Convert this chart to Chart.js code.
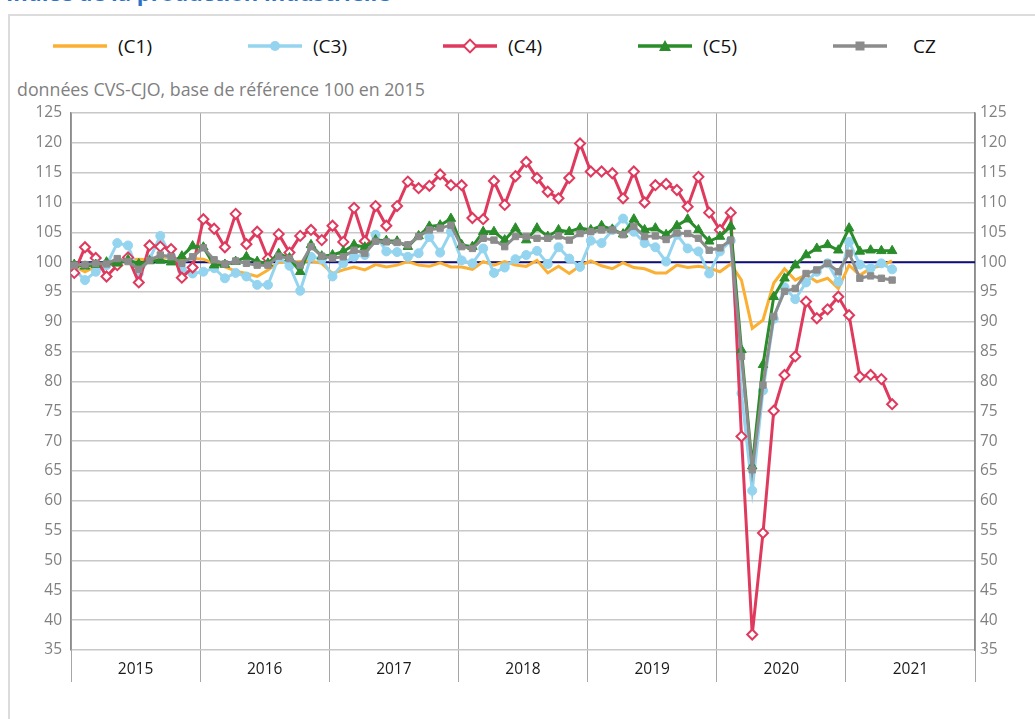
<!DOCTYPE html>
<html lang="fr">
<head>
    <meta charset="UTF-8">
    <title>Production industrielle</title>
    <script src="https://cdn.jsdelivr.net/npm/chart.js"></script>
    <style>
        body { margin: 0; width: 1035px; height: 719px; overflow: hidden; background: #fff; font-family: "Open Sans", sans-serif; position: relative; }
        #title { position: absolute; left: 6px; top: -23px; font-size: 22px; font-weight: bold; color: #2b73c9; white-space: nowrap; }
        #frame { position: absolute; left: 8px; top: 14px; width: 1100px; height: 800px; border: 2px solid #dcdcdc; box-sizing: border-box; }
        #subtitle { position: absolute; left: 17px; top: 77px; font-size: 17.8px; color: #808080; white-space: nowrap; }
        .leg { position: absolute; top: 36px; height: 20px; font-size: 19px; color: #111; white-space: nowrap; }
        .leg svg { position: absolute; left: 0; top: 2px; }
        .leg span { position: absolute; top: -3px; }
        #chart { position: absolute; left: 0; top: 0; }
    </style>
</head>
<body>
<div id="title">Indice de la production industrielle</div>
<div id="frame"></div>
<div id="legend"></div>
<div id="subtitle">données CVS-CJO, base de référence 100 en 2015</div>
<canvas id="chart" width="1035" height="719"></canvas>
<script>
    // indices mensuels, janvier 2015 -> mai 2021
    const years = ['2015', '2016', '2017', '2018', '2019', '2020', '2021'];
    const baseValue = 100;

    const c1 = [
        99.3, 98.4, 99.3, 99.7, 100.0, 100.4, 100.5, 100.4, 100.9, 100.7, 100.3, 100.6,
        100.5, 99.8, 99.2, 98.5, 98.1, 97.6, 98.7, 100.0, 100.0, 100.1, 100.2, 99.8,
        98.1, 98.7, 99.2, 98.7, 99.6, 99.2, 99.5, 100.1, 99.5, 99.3, 99.9, 99.2,
        99.2, 98.8, 100.1, 99.5, 100.1, 99.5, 99.3, 100.3, 98.2, 99.3, 98.1, 99.4,
        100.2, 99.4, 98.9, 99.9, 99.1, 98.9, 98.2, 98.2, 99.5, 99.1, 99.3, 99.0,
        98.4, 99.7, 97.0, 88.9, 90.3, 96.5, 98.9, 97.0, 97.9, 96.7, 97.3, 95.6,
        99.5, 97.8, 99.0, 99.4, 100.2
    ];
    const c3 = [
        98.8, 97.0, 98.4, 99.5, 103.2, 102.8, 98.1, 100.5, 104.4, 101.0, 98.7, 98.1,
        98.4, 99.0, 97.3, 98.2, 97.6, 96.2, 96.2, 100.8, 99.4, 95.2, 100.9, 100.5,
        97.6, 99.8, 100.9, 101.2, 104.6, 101.8, 101.7, 100.9, 101.5, 104.2, 101.6, 105.1,
        100.3, 99.8, 102.3, 98.2, 99.1, 100.5, 101.2, 101.9, 99.7, 102.5, 100.6, 99.2,
        103.6, 103.2, 105.4, 107.3, 105.1, 103.2, 102.5, 100.1, 104.6, 102.3, 101.8, 98.1,
        101.8, 103.6, 78.0, 61.7, 78.5, 90.5, 95.8, 93.8, 96.6, 98.4, 99.8, 96.7,
        103.4, 99.6, 99.0, 99.8, 98.8
    ];
    const c4 = [
        98.2, 102.5, 100.7, 97.6, 99.5, 100.8, 96.6, 102.8, 102.6, 102.2, 97.4, 99.1,
        107.2, 105.6, 102.5, 108.1, 103.0, 105.1, 100.6, 104.7, 101.6, 104.4, 105.4, 103.7,
        106.1, 103.4, 109.1, 103.5, 109.4, 106.1, 109.4, 113.5, 112.4, 112.8, 114.7, 112.9,
        112.9, 107.4, 107.2, 113.6, 109.6, 114.4, 116.8, 114.1, 111.8, 110.7, 114.1, 119.9,
        115.2, 115.2, 114.9, 110.7, 115.2, 110.0, 112.9, 113.1, 112.1, 109.3, 114.3, 108.3,
        105.4, 108.3, 70.8, 37.6, 54.6, 75.1, 81.1, 84.2, 93.4, 90.6, 92.1, 94.2,
        91.1, 80.8, 81.1, 80.4, 76.2
    ];
    const c5 = [
        99.6, 99.3, 99.6, 100.0, 99.8, 100.4, 99.7, 100.2, 100.3, 100.0, 101.0, 102.7,
        102.5, 99.5, 99.6, 100.1, 100.9, 100.1, 99.8, 101.4, 100.7, 98.4, 102.9, 101.0,
        101.2, 101.8, 102.9, 102.5, 103.7, 103.6, 103.5, 102.6, 104.4, 106.0, 106.2, 107.3,
        102.9, 102.6, 105.1, 105.1, 103.7, 105.7, 103.7, 105.7, 104.3, 105.4, 105.1, 105.7,
        105.4, 106.1, 105.5, 104.7, 107.2, 105.4, 105.7, 104.6, 106.1, 107.2, 105.4, 103.5,
        104.3, 106.0, 85.3, 65.8, 82.8, 94.2, 97.3, 99.5, 101.2, 102.3, 102.9, 102.0,
        105.7, 101.8, 102.0, 101.9, 101.9
    ];
    const cz = [
        99.5, 99.6, 99.8, 99.7, 100.6, 100.1, 98.8, 100.3, 101.2, 100.9, 99.8, 100.9,
        102.4, 100.4, 99.7, 100.2, 99.8, 99.5, 99.5, 101.0, 100.6, 99.5, 102.6, 101.0,
        100.7, 100.9, 102.0, 101.5, 103.5, 103.4, 103.3, 102.9, 104.3, 105.4, 105.7, 106.2,
        102.6, 102.3, 104.0, 103.7, 102.6, 104.3, 104.3, 104.0, 104.0, 104.4, 103.7, 104.8,
        105.1, 105.4, 105.4, 104.6, 106.0, 104.3, 104.4, 103.8, 104.9, 104.8, 104.0, 102.0,
        102.4, 103.7, 84.2, 65.2, 79.4, 90.9, 95.1, 95.6, 98.1, 98.7, 99.8, 98.4,
        101.5, 97.3, 97.7, 97.3, 97.0
    ];

    const series = [
        { label: '(C1)', data: c1, color: '#fbb034', style: false, radius: 0, fill: '#fbb034', left: 53 },
        { label: '(C3)', data: c3, color: '#94d4ef', style: 'circle', radius: 4.5, fill: '#94d4ef', left: 248 },
        { label: '(C4)', data: c4, color: '#df3a5e', style: 'rectRot', radius: 5, fill: '#ffffff', left: 443 },
        { label: '(C5)', data: c5, color: '#2a8c2a', style: 'triangle', radius: 5.5, fill: '#2a8c2a', left: 638 },
        { label: 'CZ', data: cz, color: '#8c8c8c', style: 'rect', radius: 4.5, fill: '#8c8c8c', left: 833 }
    ];

    // légende HTML
    const legend = document.getElementById('legend');
    series.forEach(s => {
        let marker = '';
        if (s.style === 'circle') marker = '<circle cx="27" cy="8" r="5" fill="' + s.color + '"/>';
        if (s.style === 'rectRot') marker = '<rect x="22.5" y="3.5" width="9" height="9" transform="rotate(45 27 8)" fill="#fff" stroke="' + s.color + '" stroke-width="2"/>';
        if (s.style === 'triangle') marker = '<polygon points="27,2 33,13 21,13" fill="' + s.color + '"/>';
        if (s.style === 'rect') marker = '<rect x="22.5" y="3.5" width="9" height="9" fill="' + s.color + '"/>';
        const div = document.createElement('div');
        div.className = 'leg';
        div.style.left = s.left + 'px';
        div.innerHTML = '<svg width="54" height="16"><line x1="0" y1="8" x2="54" y2="8" stroke="' + s.color + '" stroke-width="3.5"/>' + marker + '</svg>' +
            '<span style="left:' + (s.label === 'CZ' ? 80 : 65) + 'px">' + s.label + '</span>';
        legend.appendChild(div);
    });

    const monthOffset = 0.3;
    const toPoints = arr => arr.map((v, i) => ({ x: i + monthOffset, y: v }));

    const datasets = series.map((s, k) => ({
        label: s.label,
        data: toPoints(s.data),
        borderColor: s.color,
        backgroundColor: s.fill,
        borderWidth: 3,
        pointStyle: s.style || 'circle',
        pointRadius: s.radius,
        pointBorderColor: s.color,
        pointBackgroundColor: s.fill,
        pointBorderWidth: s.style === 'rectRot' ? 2 : 1,
        tension: 0,
        order: 10 - k
    }));
    datasets.push({
        label: 'base',
        data: [{ x: 0, y: baseValue }, { x: years.length * 12, y: baseValue }],
        borderColor: '#10107a',
        borderWidth: 2,
        pointRadius: 0,
        order: 20
    });

    const tickFont = { family: 'Open Sans', size: 15.5 };

    new Chart(document.getElementById('chart'), {
        type: 'line',
        data: { datasets: datasets },
        options: {
            responsive: false,
            animation: false,
            layout: { padding: { top: 113, left: 0, right: 0, bottom: 0 } },
            plugins: { legend: { display: false }, tooltip: { enabled: false } },
            scales: {
                x: {
                    type: 'linear',
                    min: 0,
                    max: years.length * 12,
                    afterFit: s => { s.height = 69; },
                    border: { display: false },
                    grid: {
                        color: c => (c.tick && c.tick.value % 12 === 0) ? '#a6a6a6' : 'rgba(0,0,0,0)',
                        lineWidth: 1,
                        tickLength: 32
                    },
                    ticks: {
                        stepSize: 6,
                        autoSkip: false,
                        maxRotation: 0,
                        padding: -22,
                        color: '#1a1a1a',
                        font: tickFont,
                        callback: v => (v % 12 === 6) ? years[(v - 6) / 12] : ''
                    }
                },
                y: {
                    position: 'left',
                    min: 35,
                    max: 125,
                    afterFit: s => { s.width = 71; },
                    border: { color: '#8c8c8c', width: 1.5 },
                    grid: { color: '#c8c8c8', lineWidth: 1.5, drawTicks: false },
                    ticks: { stepSize: 5, padding: 9, color: '#808080', font: tickFont }
                },
                y2: {
                    position: 'right',
                    min: 35,
                    max: 125,
                    afterFit: s => { s.width = 60; },
                    border: { color: '#8c8c8c', width: 1.5 },
                    grid: { drawOnChartArea: false, drawTicks: false },
                    ticks: { stepSize: 5, padding: 5, color: '#808080', font: tickFont }
                }
            }
        }
    });
</script>
</body>
</html>
